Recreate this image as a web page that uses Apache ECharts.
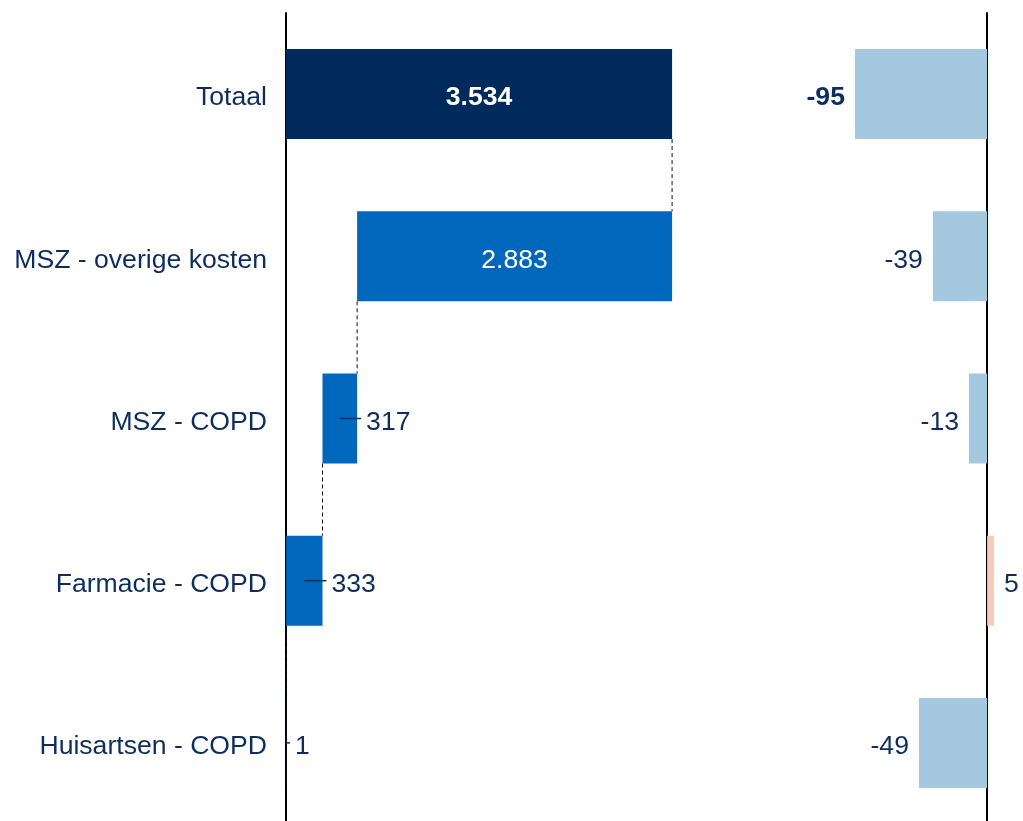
<!DOCTYPE html>
<html>
<head>
<meta charset="utf-8">
<script src="https://cdn.jsdelivr.net/npm/echarts@6/dist/echarts.min.js"></script>
<style>
  html, body { margin: 0; padding: 0; background: #fff; }
  #chart { width: 1023px; height: 821px; }
</style>
</head>
<body>
<div id="chart"></div>
<script>
// categorieën, van boven naar beneden
let categories = ['Totaal', 'MSZ - overige kosten', 'MSZ - COPD', 'Farmacie - COPD', 'Huisartsen - COPD'];
// linker paneel: kosten (waterval)
let kosten = [3534, 2883, 317, 333, 1];
// rechter paneel: verschil
let verschil = [-95, -39, -13, 5, -49];

let navy = '#002a5c';
let blauw = '#0068bc';
let lichtblauw = '#a3c8e0';
let roze = '#f8ccb8';
let tekst = '#0c2d5e';
let font = 'Arial, "Liberation Sans", sans-serif';
let fs = 26.6;

// getal met punt als duizendtal-scheiding
function fmt(v) {
	let s = String(Math.abs(v)).replace(/\B(?=(\d{3})+(?!\d))/g, '.');
	return (v < 0 ? '-' : '') + s;
}

// basis van de waterval: onderste rij begint bij 0, daarna opstapelen
let basis = new Array(kosten.length).fill(0);
let cum = 0;
for (let i = kosten.length - 1; i >= 1; i--) {
	basis[i] = cum;
	cum += kosten[i];
}
basis[0] = 0;

let barH = 90;

// verbindingslijnen tussen de balken
let connectors = [];
for (let i = 0; i < kosten.length - 1; i++) {
	connectors.push([basis[i + 1] + kosten[i + 1], i]);
}
// aanwijslijntjes bij labels buiten de balk
let leaders = [];
for (let i = 2; i < kosten.length; i++) {
	leaders.push([basis[i], kosten[i], i]);
}

let myChart = echarts.init(document.getElementById('chart'));

let option = {
	animation: false,
	textStyle: { fontFamily: font },
	grid: [
		{ left: 286, top: 13, width: 437, height: 811, outerBoundsMode: 'none' },
		{ left: 848, top: 13, width: 153, height: 811, outerBoundsMode: 'none' }
	],
	xAxis: [
		{ gridIndex: 0, type: 'value', min: 0, max: 4000, show: false },
		{ gridIndex: 1, type: 'value', min: -100, max: 10, show: false }
	],
	yAxis: [
		{
			gridIndex: 0,
			type: 'category',
			inverse: true,
			data: categories,
			axisTick: { show: false },
			splitLine: { show: false },
			axisLine: { show: true, lineStyle: { color: '#000', width: 2 } },
			axisLabel: {
				color: tekst,
				fontSize: fs,
				margin: 19,
				fontFamily: font,
				formatter: '{a|{value}}',
				rich: { a: { color: tekst, fontSize: fs, fontFamily: font, padding: [8, 0, 0, 0] } }
			}
		},
		{
			gridIndex: 1,
			type: 'category',
			inverse: true,
			data: categories,
			axisTick: { show: false },
			splitLine: { show: false },
			axisLabel: { show: false },
			axisLine: { show: true, onZero: true, lineStyle: { color: '#000', width: 2 } }
		}
	],
	series: [
		{
			type: 'bar',
			stack: 'w',
			xAxisIndex: 0,
			yAxisIndex: 0,
			barWidth: barH,
			itemStyle: { color: 'transparent' },
			silent: true,
			data: basis
		},
		{
			type: 'bar',
			stack: 'w',
			xAxisIndex: 0,
			yAxisIndex: 0,
			barWidth: barH,
			z: 3,
			data: kosten.map(function(v, i) {
				let inside = i < 2;
				return {
					value: v,
					itemStyle: { color: i === 0 ? navy : blauw },
					label: {
						show: true,
						position: inside ? 'inside' : 'right',
						distance: 9,
						offset: [0, 4],
						color: inside ? '#fff' : tekst,
						fontWeight: i === 0 ? 'bold' : 'normal',
						fontSize: fs,
						fontFamily: font,
						formatter: fmt(v)
					}
				};
			})
		},
		{
			type: 'custom',
			xAxisIndex: 0,
			yAxisIndex: 0,
			z: 1,
			silent: true,
			data: connectors,
			renderItem: function(params, api) {
				let x = api.value(0);
				let i = api.value(1);
				let a = api.coord([x, i]);
				let b = api.coord([x, i + 1]);
				return {
					type: 'line',
					shape: { x1: a[0], y1: a[1] + barH / 2, x2: b[0], y2: b[1] - barH / 2 },
					style: { stroke: '#111', lineWidth: 1, lineDash: [4, 3] }
				};
			}
		},
		{
			type: 'custom',
			xAxisIndex: 0,
			yAxisIndex: 0,
			z: 5,
			silent: true,
			data: leaders,
			renderItem: function(params, api) {
				let b = api.value(0);
				let v = api.value(1);
				let i = api.value(2);
				let a = api.coord([b + v / 2, i]);
				let e = api.coord([b + v, i]);
				return {
					type: 'line',
					shape: { x1: a[0], y1: a[1], x2: e[0] + 4, y2: e[1] },
					style: { stroke: tekst, lineWidth: 1.5 }
				};
			}
		},
		{
			type: 'bar',
			xAxisIndex: 1,
			yAxisIndex: 1,
			barWidth: barH,
			data: verschil.map(function(v, i) {
				return {
					value: v,
					itemStyle: { color: v < 0 ? lichtblauw : roze },
					label: {
						show: true,
						position: v < 0 ? 'left' : 'right',
						distance: 10,
						offset: [0, 4],
						color: tekst,
						fontWeight: i === 0 ? 'bold' : 'normal',
						fontSize: fs,
						fontFamily: font,
						formatter: fmt(v)
					}
				};
			})
		}
	]
};

myChart.setOption(option);

window.addEventListener('resize', function() {
	myChart.resize();
});
</script>
</body>
</html>
